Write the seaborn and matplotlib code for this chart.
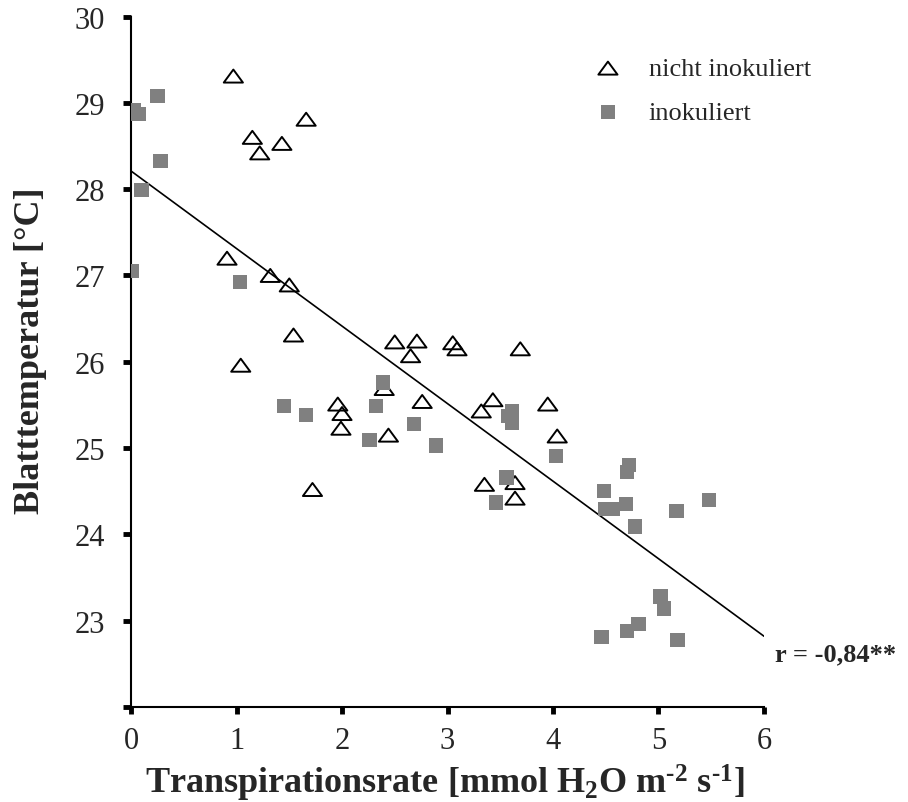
import matplotlib
matplotlib.use("Agg")
import matplotlib.pyplot as plt
from matplotlib.path import Path
import seaborn as sns
import pandas as pd

# ---- data ----
x_nicht = [0.97, 1.15, 1.22, 1.43, 1.66, 0.91, 1.32, 1.50, 1.54, 1.04,
           1.96, 2.00, 1.99, 1.72, 2.40, 2.44, 2.50, 2.65, 2.71, 2.76,
           3.05, 3.09, 3.69, 3.43, 3.32, 3.95, 4.04, 3.35, 3.64, 3.64]
y_nicht = [29.31, 28.60, 28.42, 28.53, 28.81, 27.20, 27.00, 26.89, 26.31, 25.96,
           25.51, 25.40, 25.23, 24.52, 25.69, 25.15, 26.23, 26.07, 26.24, 25.54,
           26.22, 26.15, 26.15, 25.56, 25.43, 25.51, 25.14, 24.58, 24.60, 24.42]

x_inok = [0.25, 0.03, 0.07, 0.28, 0.10, 0.01, 1.03, 2.39, 1.45, 1.66,
          2.32, 2.68, 2.26, 2.89, 3.61, 3.57, 3.61, 4.03, 3.56, 3.46,
          4.72, 4.70, 4.48, 4.49, 4.57, 4.69, 4.78, 5.17, 5.48, 5.02,
          5.05, 4.46, 4.70, 4.81, 5.18]
y_inok = [29.08, 28.91, 28.87, 28.33, 27.99, 27.05, 26.92, 25.76, 25.49, 25.38,
          25.49, 25.28, 25.09, 25.03, 25.43, 25.37, 25.29, 24.91, 24.66, 24.37,
          24.80, 24.72, 24.50, 24.29, 24.29, 24.35, 24.09, 24.27, 24.40, 23.28,
          23.14, 22.81, 22.88, 22.96, 22.78]

fit_x = [0, 6]
fit_y = [28.21, 22.82]

x_ticks = [0, 1, 2, 3, 4, 5, 6]
y_ticks = [22, 23, 24, 25, 26, 27, 28, 29, 30]
y_ticklabels = ["", "23", "24", "25", "26", "27", "28", "29", "30"]

label_nicht = "nicht inokuliert"
label_inok = "inokuliert"
r_text = "r = -0,84**"
xlabel = "Transpirationsrate [mmol H$_2$O m$^{\u20102}$ s$^{\u20101}$]"
ylabel = "Blatttemperatur [°C]"

df_nicht = pd.DataFrame({"x": x_nicht, "y": y_nicht})
df_inok = pd.DataFrame({"x": x_inok, "y": y_inok})
df_fit = pd.DataFrame({"x": fit_x, "y": fit_y})

sns.set_theme(style="white")
plt.rcParams['font.family'] = ['Liberation Serif', 'DejaVu Serif']
plt.rcParams['mathtext.default'] = 'regular'

fig = plt.figure(figsize=(9.08, 8.03), dpi=100)
ax = fig.add_axes([0.1443, 0.1183, 0.6971, 0.8599])

tri = Path([(-1, -0.68), (1, -0.68), (0, 0.68), (-1, -0.68)], closed=True)
sns.lineplot(data=df_fit, x="x", y="y", color="black", linewidth=1.2, ax=ax)
sns.scatterplot(data=df_nicht, x="x", y="y", marker=tri, s=190,
                facecolors="none", edgecolor="black", linewidth=1.4,
                label=label_nicht, ax=ax, zorder=3)
sns.scatterplot(data=df_inok, x="x", y="y", marker="s", s=105,
                color="#808080", edgecolor="none", linewidth=0,
                label=label_inok, ax=ax, zorder=3)

ax.set_xlim(0, 6)
ax.set_ylim(22, 30)
ax.set_xticks(x_ticks)
ax.set_yticks(y_ticks, y_ticklabels)

for s in ["top", "right"]:
    ax.spines[s].set_visible(False)
for s in ["left", "bottom"]:
    ax.spines[s].set_color("black")
    ax.spines[s].set_linewidth(1.5)

ax.tick_params(axis="y", direction="out", length=6, width=3.5, color="black",
               labelsize=22, pad=13, left=True)
ax.tick_params(axis="x", direction="out", length=5, width=3.5, color="black",
               labelsize=22, pad=9, bottom=True)

ax.set_xlabel(xlabel, fontsize=26, fontweight="bold")
ax.set_ylabel(ylabel, fontsize=26, fontweight="bold")
ax.xaxis.set_label_coords(0.495, -0.080)
ax.yaxis.set_label_coords(-0.133, 0.518)

leg = ax.legend(frameon=False, loc="upper left",
                bbox_to_anchor=(571 / 908, 1 - 47 / 803),
                bbox_transform=fig.transFigure,
                fontsize=19, labelspacing=0.78, handletextpad=0.55,
                borderaxespad=0)

fig.text(775 / 908, 1 - 655 / 803, r_text, fontsize=19, fontweight="bold",
         ha="left", va="center")

fig.savefig("out.png", dpi=100)
